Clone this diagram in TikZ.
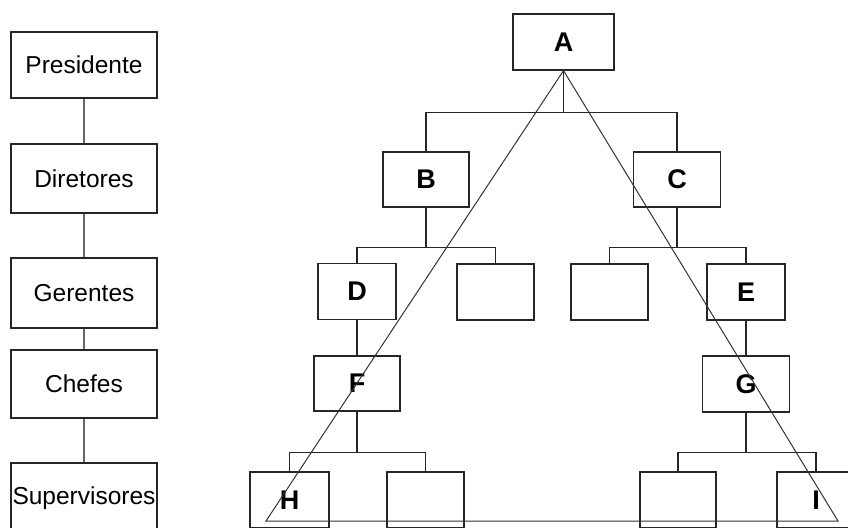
\documentclass[tikz,border=0pt]{standalone}
\usepackage{fontspec}
\setmainfont{Liberation Sans}

\begin{document}
\begin{tikzpicture}[x=1pt, y=-1pt, line width=1.2pt,
    cargo/.style={draw=black!85, minimum width=146pt, minimum height=#1, inner sep=0pt, font=\fontsize{24.5}{28}\selectfont},
    cargo/.default=68pt,
    caixa/.style={draw=black!85, minimum width=#1, minimum height=56pt, inner sep=0pt, font=\bfseries\fontsize{27}{30}\selectfont},
    caixa/.default=78pt,
    liga/.style={draw=black!85},
    nivel/.style={draw=black!60}]
    \useasboundingbox (0,0) rectangle (848,527);
    \clip (0,0) rectangle (848,527);
    % coluna da esquerda: niveis hierarquicos
    \node[cargo=66pt] (pres) at (84,65) {Presidente};
    \node[cargo=69pt] (dir) at (84,178.5) {Diretores};
    \node[cargo=70pt] (ger) at (84,293) {Gerentes};
    \node[cargo] (chef) at (84,384) {Chefes};
    \node[cargo=70pt] (sup) at (84,498) {Supervisores};
    \draw[nivel] (pres) -- (dir);
    \draw[nivel] (dir) -- (ger);
    \draw[nivel] (ger) -- (chef);
    \draw[nivel] (chef) -- (sup);
    % organograma
    \node[caixa=101pt] (A) at (563.5,42) {A};
    \node[caixa=86pt, minimum height=55pt] (B) at (426,179.5) {B};
    \node[caixa=87pt, minimum height=55pt] (C) at (677,179.5) {C};
    \node[caixa] (D) at (357,291.5) {D};
    \node[caixa=77pt] (v1) at (495.5,292) {};
    \node[caixa=77pt] (v2) at (609.5,292) {};
    \node[caixa] (E) at (746,292) {E};
    \node[caixa=86pt, minimum height=55pt] (F) at (357,383.5) {F};
    \node[caixa=87pt] (G) at (746,384) {G};
    \node[caixa=79pt] (H) at (289.5,500) {H};
    \node[caixa=77pt] (v3) at (425.5,500) {};
    \node[caixa=76pt] (v4) at (678,500) {};
    \node[caixa] (I) at (816,500) {I};
    % ligacoes
    \draw[liga] (A.south) -- ++(0,42) -| (B.north);
    \draw[liga] (A.south) ++(0,42) -| (C.north);
    \draw[liga] (B.south) -- ++(0,40) -| (D.north);
    \draw[liga] (B.south) ++(0,40) -| (v1.north);
    \draw[liga] (C.south) -- ++(0,40) -| (v2.north);
    \draw[liga] (C.south) ++(0,40) -| (E.north);
    \draw[liga] (D.south) -- (F.north);
    \draw[liga] (E.south) -- (G.north);
    \draw[liga] (F.south) -- ++(0,41) -| (H.north);
    \draw[liga] (F.south) ++(0,41) -| (v3.north);
    \draw[liga] (G.south) -- ++(0,40) -| (v4.north);
    \draw[liga] (G.south) ++(0,40) -| (I.north);
    % triangulo
    \coordinate (baseL) at (266,521);
    \coordinate (baseR) at (838,521);
    \draw[black!80, line width=1pt] (A.south) -- (baseL) -- (baseR) -- cycle;
\end{tikzpicture}
\end{document}
